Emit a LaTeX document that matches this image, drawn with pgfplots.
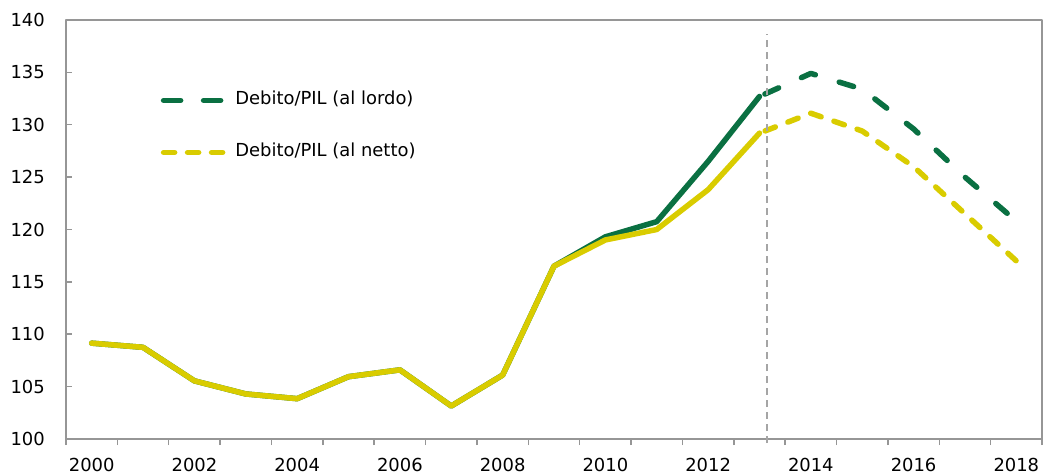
\documentclass[border=0pt]{standalone}
\usepackage{fontspec}
\setmainfont{DejaVu Sans}
\usepackage{pgfplots}
\pgfplotsset{compat=1.18}
\definecolor{dgreen}{RGB}{10,112,66}
\definecolor{dyellow}{RGB}{217,204,0}
\definecolor{axgray}{RGB}{150,150,150}
\definecolor{refgray}{RGB}{165,165,165}
\begin{document}
\begin{tikzpicture}
\begin{axis}[
  scale only axis, width=976bp, height=419bp,
  xmin=1999.5, xmax=2018.5, ymin=100, ymax=140,
  clip=false,
  xtick={2000,2002,...,2018},
  minor xtick={1999.5,2000.5,...,2018.5},
  ytick={100,105,...,140},
  tick pos=left, tick align=inside,
  major tick length=6bp, minor tick length=6bp,
  every major x tick/.append style={draw=none},
  every minor x tick/.append style={yshift=-6bp},
  axis line style={axgray, line width=1.5bp},
  every tick/.style={axgray, line width=1.5bp},
  tick label style={font=\fontsize{18}{22}\selectfont, inner sep=0pt},
  /pgf/number format/assume math mode=true,
  /pgf/number format/1000 sep={},
  xticklabel style={anchor=north, yshift=-19bp},
  yticklabel style={anchor=east, xshift=-21bp},
  legend style={draw=none, fill=none, at={(rel axis cs:0.097,0.829)}, anchor=north west,
    font=\fontsize{18}{22}\selectfont, row sep=35bp, column sep=5bp, inner sep=0pt,
    nodes={inner sep=0pt, text height=13bp, text depth=4bp}},
  legend cell align=left,
  legend image code/.code={\draw[#1] (0bp,0bp) -- (64bp,0bp);},
  line join=round,
]
\addlegendimage{dgreen, line width=5.5bp, line cap=round, dash pattern=on 17bp off 23bp}
\addlegendentry{Debito/PIL (al lordo)}
\addlegendimage{dyellow, line width=5.5bp, line cap=round, dash pattern=on 11bp off 13bp}
\addlegendentry{Debito/PIL (al netto)}

% Gross debt (green)
\addplot[forget plot, dgreen, line width=5.5bp, line cap=round] coordinates {
 (2000,109.15) (2001,108.75) (2002,105.55) (2003,104.3) (2004,103.85)
 (2005,105.95) (2006,106.6) (2007,103.15) (2008,106.1) (2009,116.5)
 (2010,119.3) (2011,120.75) (2012,126.5) (2013,132.7)};
\addplot[forget plot, dgreen, line width=5.5bp, line cap=round, dash pattern=on 15bp off 25bp, dash phase=-6bp] coordinates {
 (2013,132.7) (2014,134.9) (2015,133.4) (2016,129.6) (2017,125.0) (2018,120.8)};

% Net debt (yellow)
\addplot[forget plot, dyellow, line width=5.5bp, line cap=round] coordinates {
 (2000,109.15) (2001,108.75) (2002,105.55) (2003,104.3) (2004,103.85)
 (2005,105.95) (2006,106.6) (2007,103.15) (2008,106.1) (2009,116.5)
 (2010,119.0) (2011,120.0) (2012,123.8) (2013,129.2)};
\addplot[forget plot, dyellow, line width=5.5bp, line cap=round, dash pattern=on 11bp off 13.5bp, dash phase=-6bp] coordinates {
 (2013,129.2) (2014,131.1) (2015,129.4) (2016,126.0) (2017,121.5) (2018,117.0)};

% vertical reference line
\addplot[forget plot, refgray, line width=1.8bp, dash pattern=on 7bp off 5bp] coordinates {
 (2013.14,99.6) (2013.14,138.7)};
\end{axis}
\path ([xshift=-66bp,yshift=-35bp]current axis.south west) rectangle ([xshift=5bp,yshift=20bp]current axis.north east);
\end{tikzpicture}
\end{document}
